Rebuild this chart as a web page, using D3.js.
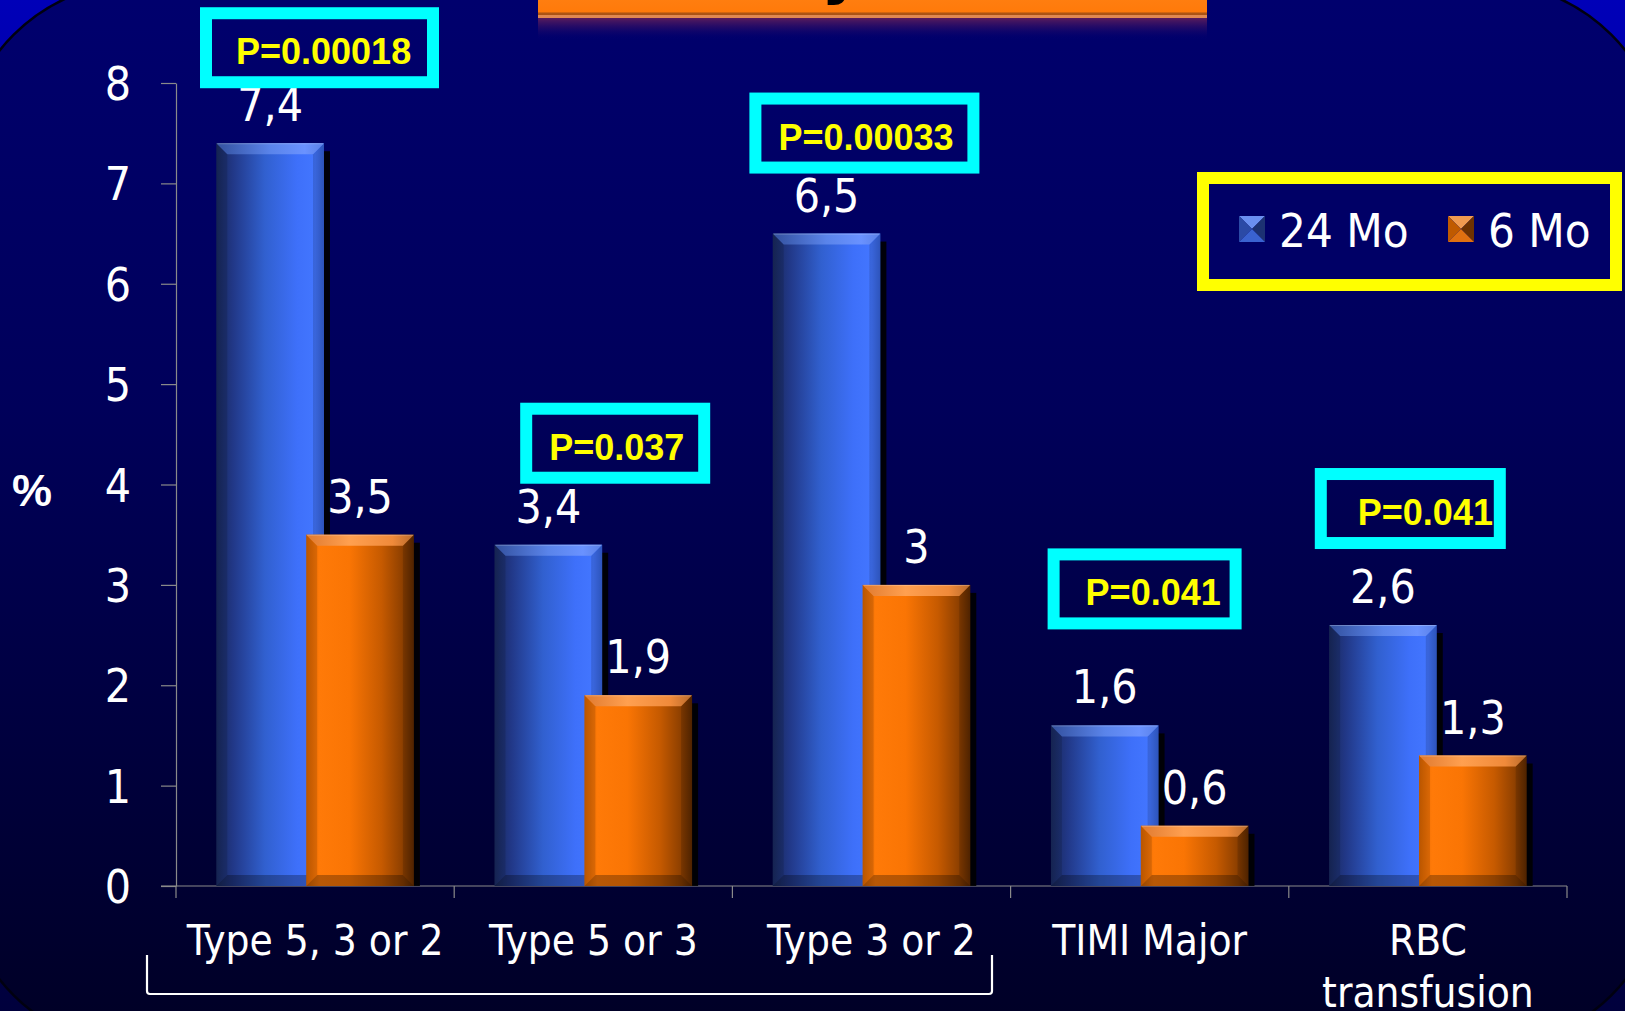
<!DOCTYPE html>
<html>
<head>
<meta charset="utf-8">
<script src="https://cdn.jsdelivr.net/npm/d3@7"></script>
<style>
  html, body { margin: 0; padding: 0; background: #000070; overflow: hidden; }
  svg { display: block; }
  .lbl { font-family: 'DejaVu Sans Condensed', 'DejaVu Sans', sans-serif; font-stretch: condensed; fill: #ffffff; }
  .pval { font-family: 'Liberation Sans', Arial, sans-serif; font-weight: bold; fill: #ffff00; }
</style>
</head>
<body>
<script>
// ---- data ----
const categories = ["Type 5, 3 or 2", "Type 5 or 3", "Type 3 or 2", "TIMI Major", "RBC transfusion"];
const categoryLines = [["Type 5, 3 or 2"], ["Type 5 or 3"], ["Type 3 or 2"], ["TIMI Major"], ["RBC", "transfusion"]];
const seriesNames = ["24 Mo", "6 Mo"];
const values24Mo = [7.4, 3.4, 6.5, 1.6, 2.6];
const values6Mo = [3.5, 1.9, 3.0, 0.6, 1.3];
const pValues = ["P=0.00018", "P=0.037", "P=0.00033", "P=0.041", "P=0.041"];
const yTicks = [0, 1, 2, 3, 4, 5, 6, 7, 8];
const yLabel = "%";

// ---- layout ----
const W = 1625, H = 1011;
const plot = { left: 176, right: 1567, top: 83, bottom: 886 };
// p-value boxes: left offset from the band start, gap above the 24 Mo bar top, outer width, text inset
const pBoxLayout = [
  { dx: 24, gap: 55, w: 239, inset: 36 },
  { dx: 66, gap: 61, w: 190, inset: 29 },
  { dx: 17, gap: 60, w: 230, inset: 29 },
  { dx: 37, gap: 96, w: 194, inset: 38 },
  { dx: 26, gap: 76, w: 191, inset: 43 }
];

const svg = d3.select("body").append("svg").attr("width", W).attr("height", H);
const defs = svg.append("defs");

function linGrad(id, stops, vertical) {
  const g = defs.append("linearGradient").attr("id", id)
    .attr("x1", 0).attr("y1", 0).attr("x2", vertical ? 0 : 1).attr("y2", vertical ? 1 : 0);
  stops.forEach(([o, c, op]) => g.append("stop").attr("offset", o).attr("stop-color", c).attr("stop-opacity", op == null ? 1 : op));
}
linGrad("outerBg", [[0, "#0000b8"], [0.5, "#000080"], [1, "#00003c"]], true);
linGrad("innerBg", [[0, "#00006e"], [0.4, "#00005a"], [1, "#000024"]], true);
linGrad("blueBody", [[0, "#19295c"], [0.15, "#213786"], [0.45, "#3160cf"], [0.75, "#3e70fa"], [0.92, "#4376ff"], [1, "#3562da"]]);
linGrad("blueTop", [[0, "#33509e"], [0.5, "#5a84ea"], [0.82, "#6a92ff"], [1, "#5a80e6"]]);
linGrad("orangeBody", [[0, "#d46200"], [0.12, "#ff7a08"], [0.4, "#fa7504"], [0.7, "#c65a00"], [0.9, "#8c3f00"], [1, "#5c2900"]]);
linGrad("orangeTop", [[0, "#e07a30"], [0.4, "#ffa050"], [0.8, "#f08a3a"], [1, "#b86a2c"]]);
linGrad("titleBar", [[0, "#ff7e10"], [0.7, "#ff7a0a"], [1, "#c05a18"]], true);
linGrad("titleReflect", [[0, "#5a1c5c", 1], [0.5, "#2a0c66", 0.6], [1, "#000070", 0]], true);

// ---- background frame ----
svg.append("rect").attr("width", W).attr("height", H).attr("fill", "url(#outerBg)");
svg.append("rect").attr("x", -39).attr("y", -18).attr("width", 1703).attr("height", 1066)
  .attr("rx", 180).attr("ry", 180)
  .attr("fill", "url(#innerBg)").attr("stroke", "#000010").attr("stroke-width", 2.5);

// ---- title strip (top of slide header) ----
const title = svg.append("g");
title.append("rect").attr("x", 538).attr("y", 18).attr("width", 669).attr("height", 22).attr("fill", "url(#titleReflect)");
title.append("rect").attr("x", 538).attr("y", -2).attr("width", 669).attr("height", 20).attr("fill", "url(#titleBar)");
title.append("rect").attr("x", 538).attr("y", 12.5).attr("width", 669).attr("height", 2.5).attr("fill", "#9c4c14").attr("opacity", 0.8);
title.append("rect").attr("x", 538).attr("y", 15).attr("width", 669).attr("height", 3).attr("fill", "#e08850");
title.append("text").attr("x", 842).attr("y", -9).attr("text-anchor", "middle")
  .attr("font-family", "DejaVu Sans, sans-serif").attr("font-weight", "bold").attr("font-size", 64)
  .attr("fill", "#000000").text("y");

// ---- scales ----
const x = d3.scaleBand().domain(categories).range([plot.left, plot.right]).paddingInner(0).paddingOuter(0);
const y = d3.scaleLinear().domain([0, 8]).range([plot.bottom, plot.top]);
const barW = x.bandwidth() * 0.387;
const step = barW * 0.835;
const groupOff = (x.bandwidth() - (step + barW)) / 2;
const fmt = d3.formatLocale({ decimal: ",", thousands: ".", grouping: [3], currency: ["", ""] }).format("~r");

// ---- axes ----
const axisColor = "#8a8a8a";
const yAxis = svg.append("g").attr("transform", `translate(${plot.left},0)`)
  .call(d3.axisLeft(y).tickValues(yTicks).tickSize(15).tickSizeOuter(0).tickPadding(30).tickFormat(d3.format("d")));
yAxis.select(".domain").attr("stroke", axisColor).attr("stroke-width", 1.2);
yAxis.selectAll(".tick line").attr("stroke", axisColor).attr("stroke-width", 1.2);
yAxis.selectAll(".tick text").attr("class", "lbl").attr("font-size", 46).attr("dy", "0.36em")
  .style("font-family", "'DejaVu Sans Condensed','DejaVu Sans',sans-serif").attr("fill", "#fff");

svg.append("text").attr("x", 12).attr("y", 506)
  .attr("font-family", "'Liberation Sans', Arial, sans-serif").attr("font-weight", "bold")
  .attr("font-size", 45).attr("fill", "#ffffff").text(yLabel);

const xAxis = svg.append("g");
xAxis.append("line").attr("x1", plot.left - 15).attr("x2", plot.right)
  .attr("y1", y(0)).attr("y2", y(0)).attr("stroke", axisColor).attr("stroke-width", 1.2);
const bounds = categories.map(c => x(c)).concat([x(categories[categories.length - 1]) + x.bandwidth()]);
xAxis.selectAll("line.bt").data(bounds).join("line").attr("class", "bt")
  .attr("x1", d => d).attr("x2", d => d).attr("y1", y(0)).attr("y2", y(0) + 12)
  .attr("stroke", axisColor).attr("stroke-width", 1.2);

const catText = svg.append("g").selectAll("text").data(categories).join("text")
  .attr("class", "lbl").attr("font-size", 42).attr("text-anchor", "middle")
  .attr("x", d => x(d) + x.bandwidth() / 2).attr("y", 955);
catText.each(function (d, i) {
  d3.select(this).selectAll("tspan").data(categoryLines[i]).join("tspan")
    .attr("x", x(d) + x.bandwidth() / 2).attr("dy", (t, j) => j === 0 ? 0 : 52).text(t => t);
});

// bracket grouping the three bleeding-type categories
svg.append("path")
  .attr("d", "M147,955 L147,991 Q147,994 150,994 L989,994 Q992,994 992,991 L992,955")
  .attr("fill", "none").attr("stroke", "#ffffff").attr("stroke-width", 2.2);

// ---- bars ----
const series = [
  { name: seriesNames[0], values: values24Mo, body: "url(#blueBody)", top: "url(#blueTop)", off: 0 },
  { name: seriesNames[1], values: values6Mo, body: "url(#orangeBody)", top: "url(#orangeTop)", off: step }
];

function drawBar(g, x0, y0, w, y1, s) {
  const h = y1 - y0;
  const b = Math.min(11, h / 2);
  g.append("rect").attr("x", x0 + 6).attr("y", y0 + 8).attr("width", w).attr("height", Math.max(0, h - 8))
    .attr("fill", "#000000").attr("opacity", 0.9);
  g.append("rect").attr("x", x0).attr("y", y0).attr("width", w).attr("height", h).attr("fill", s.body);
  const poly = pts => pts.map(p => p.join(",")).join(" ");
  g.append("polygon").attr("points", poly([[x0, y0], [x0 + b, y0 + b], [x0 + b, y1 - b], [x0, y1]]))
    .attr("fill", "#000000").attr("opacity", 0.12);
  g.append("polygon").attr("points", poly([[x0 + w, y0], [x0 + w - b, y0 + b], [x0 + w - b, y1 - b], [x0 + w, y1]]))
    .attr("fill", "#000000").attr("opacity", 0.14);
  g.append("polygon").attr("points", poly([[x0, y1], [x0 + b, y1 - b], [x0 + w - b, y1 - b], [x0 + w, y1]]))
    .attr("fill", "#000000").attr("opacity", 0.28);
  g.append("polygon").attr("points", poly([[x0, y0], [x0 + w, y0], [x0 + w - b, y0 + b], [x0 + b, y0 + b]]))
    .attr("fill", s.top);
  g.append("line").attr("x1", x0 + 1).attr("x2", x0 + w - 1).attr("y1", y0 + 0.5).attr("y2", y0 + 0.5)
    .attr("stroke", "#ffffff").attr("stroke-opacity", 0.25);
}

const barsG = svg.append("g");
series.forEach(s => {
  s.values.forEach((v, i) => {
    const x0 = x(categories[i]) + groupOff + s.off;
    drawBar(barsG, x0, y(v), barW, y(0), s);
  });
});

// value labels
const labelsG = svg.append("g");
series.forEach(s => {
  labelsG.selectAll(null).data(s.values).join("text")
    .attr("class", "lbl").attr("font-size", 46).attr("text-anchor", "middle")
    .attr("x", (v, i) => x(categories[i]) + groupOff + s.off + barW / 2)
    .attr("y", v => y(v) - 22)
    .text(v => fmt(v));
});

// ---- p-value boxes ----
const pG = svg.append("g");
pValues.forEach((p, i) => {
  const L = pBoxLayout[i];
  const bx = x(categories[i]) + L.dx;
  const bottom = y(values24Mo[i]) - L.gap;
  const bh = 81, sw = 12;
  const top = bottom - bh;
  pG.append("rect").attr("x", bx + sw / 2).attr("y", top + sw / 2)
    .attr("width", L.w - sw).attr("height", bh - sw)
    .attr("fill", "none").attr("stroke", "#00ffff").attr("stroke-width", sw);
  pG.append("text").attr("class", "pval").attr("font-size", 36)
    .attr("x", bx + L.inset).attr("y", top + 57).text(p);
});

// ---- legend ----
const leg = svg.append("g");
leg.append("rect").attr("x", 1203).attr("y", 178).attr("width", 413).attr("height", 107)
  .attr("fill", "#000066").attr("stroke", "#ffff00").attr("stroke-width", 12);
const swatchCols = [
  { t: "#6a8ff0", l: "#2b4aa6", r: "#1c3172", b: "#3a62d0" },
  { t: "#f09a50", l: "#c05a00", r: "#6e3200", b: "#e07010" }
];
const legX = [1239, 1448];
seriesNames.forEach((n, i) => {
  const sx = legX[i], sy = 216, sz = 26;
  const c = swatchCols[i];
  const cx = sx + sz / 2, cy = sy + sz / 2;
  const tri = (pts, f) => leg.append("polygon").attr("points", pts.map(p => p.join(",")).join(" ")).attr("fill", f);
  tri([[sx, sy], [sx + sz, sy], [cx, cy]], c.t);
  tri([[sx, sy], [cx, cy], [sx, sy + sz]], c.l);
  tri([[sx + sz, sy], [sx + sz, sy + sz], [cx, cy]], c.r);
  tri([[sx, sy + sz], [cx, cy], [sx + sz, sy + sz]], c.b);
  leg.append("text").attr("class", "lbl").attr("font-size", 47)
    .attr("x", sx + 40).attr("y", 247).text(n);
});
</script>
</body>
</html>
